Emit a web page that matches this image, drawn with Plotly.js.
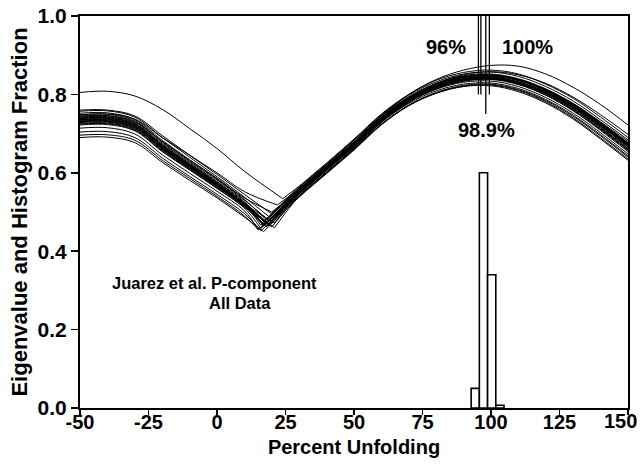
<!DOCTYPE html>
<html>
<head>
<meta charset="utf-8">
<script src="https://cdn.plot.ly/plotly-3.0.1.min.js"></script>
<style>html,body{margin:0;padding:0;background:#fff;}#chart{width:640px;height:464px;}</style>
</head>
<body>
<div id="chart"></div>
<script>
// ---- Data ----
const xLeft = [-50, -40, -30, -20, -10, 0, 10];
const xRight = [30, 40, 50, 60, 70, 80, 90, 100, 110, 120, 130, 140, 150];

const curveLeft = [
  [0.805,0.808,0.796,0.762,0.713,0.662,0.604],
  [0.760,0.760,0.745,0.695,0.645,0.596,0.545],
  [0.757,0.758,0.742,0.690,0.640,0.590,0.538],
  [0.752,0.753,0.736,0.683,0.633,0.584,0.532],
  [0.748,0.749,0.733,0.679,0.630,0.582,0.530],
  [0.745,0.746,0.730,0.676,0.627,0.578,0.526],
  [0.742,0.743,0.727,0.673,0.624,0.576,0.524],
  [0.740,0.741,0.725,0.671,0.622,0.574,0.522],
  [0.738,0.739,0.723,0.669,0.620,0.572,0.520],
  [0.736,0.737,0.721,0.667,0.619,0.571,0.521],
  [0.734,0.735,0.719,0.665,0.617,0.569,0.518],
  [0.732,0.733,0.717,0.663,0.615,0.568,0.518],
  [0.730,0.731,0.715,0.662,0.614,0.567,0.517],
  [0.728,0.729,0.713,0.660,0.612,0.565,0.515],
  [0.726,0.727,0.711,0.658,0.611,0.564,0.514],
  [0.724,0.725,0.709,0.656,0.609,0.562,0.512],
  [0.722,0.723,0.707,0.654,0.607,0.560,0.510],
  [0.714,0.715,0.699,0.646,0.599,0.553,0.503],
  [0.704,0.705,0.690,0.638,0.591,0.545,0.496],
  [0.696,0.697,0.683,0.632,0.586,0.540,0.490],
  [0.690,0.691,0.677,0.627,0.581,0.536,0.487],
  [0.748,0.750,0.737,0.690,0.645,0.600,0.552],
  [0.744,0.745,0.730,0.680,0.633,0.586,0.536],
  [0.739,0.740,0.724,0.670,0.621,0.573,0.521],
  [0.735,0.736,0.720,0.666,0.618,0.570,0.519],
  [0.731,0.732,0.716,0.662,0.614,0.567,0.516]
];
const cuspX = [24,20,19,18,19,17,18,19,17,18,16,19,20,17,18,21,16,15,16,15,17,22,20,21,19,18];
const cuspY = [0.534,0.495,0.488,0.480,0.478,0.476,0.472,0.470,0.468,0.469,0.466,0.464,0.462,0.465,0.462,0.460,0.458,0.455,0.452,0.455,0.450,0.518,0.500,0.472,0.467,0.463];
const curveRight = [
  [0.566,0.622,0.684,0.746,0.800,0.838,0.862,0.874,0.872,0.852,0.818,0.774,0.722],
  [0.565,0.625,0.686,0.750,0.800,0.836,0.856,0.862,0.852,0.826,0.790,0.742,0.690],
  [0.562,0.622,0.683,0.748,0.798,0.832,0.852,0.857,0.846,0.820,0.783,0.735,0.684],
  [0.558,0.618,0.678,0.744,0.794,0.828,0.848,0.852,0.840,0.814,0.776,0.728,0.676],
  [0.553,0.613,0.674,0.740,0.790,0.825,0.845,0.850,0.838,0.812,0.774,0.725,0.673],
  [0.560,0.620,0.680,0.745,0.794,0.827,0.846,0.850,0.837,0.810,0.771,0.722,0.669],
  [0.556,0.616,0.676,0.741,0.791,0.824,0.844,0.848,0.836,0.810,0.772,0.724,0.672],
  [0.550,0.610,0.670,0.736,0.787,0.821,0.841,0.846,0.835,0.810,0.773,0.726,0.675],
  [0.553,0.613,0.673,0.738,0.788,0.821,0.840,0.844,0.832,0.806,0.768,0.720,0.668],
  [0.551,0.611,0.671,0.737,0.787,0.820,0.840,0.844,0.831,0.804,0.765,0.716,0.663],
  [0.556,0.616,0.676,0.740,0.789,0.821,0.839,0.842,0.829,0.802,0.763,0.714,0.661],
  [0.546,0.606,0.667,0.733,0.784,0.818,0.838,0.843,0.832,0.807,0.770,0.723,0.672],
  [0.542,0.602,0.663,0.730,0.781,0.816,0.836,0.841,0.830,0.805,0.768,0.721,0.670],
  [0.549,0.609,0.669,0.734,0.784,0.817,0.836,0.840,0.827,0.800,0.761,0.712,0.659],
  [0.547,0.607,0.667,0.732,0.782,0.815,0.834,0.838,0.825,0.798,0.759,0.710,0.657],
  [0.540,0.600,0.661,0.728,0.779,0.814,0.834,0.839,0.828,0.803,0.766,0.719,0.668],
  [0.548,0.608,0.668,0.732,0.781,0.813,0.831,0.834,0.820,0.792,0.752,0.702,0.648],
  [0.546,0.606,0.665,0.729,0.777,0.809,0.826,0.829,0.815,0.787,0.747,0.697,0.643],
  [0.540,0.600,0.660,0.724,0.773,0.805,0.823,0.826,0.812,0.784,0.744,0.694,0.640],
  [0.542,0.602,0.661,0.724,0.772,0.803,0.820,0.822,0.807,0.778,0.737,0.686,0.632],
  [0.538,0.598,0.658,0.722,0.771,0.803,0.821,0.824,0.810,0.781,0.740,0.689,0.635],
  [0.560,0.618,0.678,0.742,0.792,0.828,0.850,0.858,0.850,0.828,0.793,0.748,0.698],
  [0.556,0.615,0.675,0.740,0.790,0.824,0.844,0.849,0.838,0.812,0.775,0.727,0.676],
  [0.548,0.608,0.669,0.736,0.787,0.822,0.843,0.848,0.838,0.813,0.777,0.730,0.680],
  [0.550,0.610,0.670,0.735,0.785,0.819,0.838,0.842,0.830,0.804,0.766,0.718,0.666],
  [0.552,0.612,0.672,0.737,0.786,0.819,0.837,0.840,0.826,0.798,0.758,0.708,0.654]
];

// Histogram of unfolding percentages
const binCenters = [94.25, 97.25, 100.25, 103.25];
const binFraction = [0.05, 0.60, 0.34, 0.007];

// Marker lines (percent unfolding) and their lower ends
const markerX = [95.4, 96.3, 98.1, 99.4];
const markerLow = [0.80, 0.80, 0.75, 0.80];
const markerHigh = [1.0, 1.0, 1.0, 1.0];

const markerLabels = ['96%', '100%', '98.9%'];
const markerLabelX = [83.5, 113.4, 98.4];
const markerLabelY = [0.922, 0.922, 0.708];

const xTicks = [-50, -25, 0, 25, 50, 75, 100, 125, 150];
const yTicks = [0.0, 0.2, 0.4, 0.6, 0.8, 1.0];

// ---- Build traces ----
const FONT = 'Liberation Sans, Arial, Helvetica, sans-serif';
const traces = [];
for (let i = 0; i < curveLeft.length; i++) {
  traces.push({
    type: 'scatter', mode: 'lines',
    x: xLeft.concat([cuspX[i]]),
    y: curveLeft[i].concat([cuspY[i]]),
    line: {color: '#000', width: 1, shape: 'spline', smoothing: 1},
    hoverinfo: 'skip', showlegend: false
  });
  traces.push({
    type: 'scatter', mode: 'lines',
    x: [cuspX[i]].concat(xRight),
    y: [cuspY[i]].concat(curveRight[i]),
    line: {color: '#000', width: 1, shape: 'spline', smoothing: 1},
    hoverinfo: 'skip', showlegend: false
  });
}
traces.push({
  type: 'bar', x: binCenters, y: binFraction, width: 3,
  marker: {color: '#fff', line: {color: '#000', width: 1.6}},
  showlegend: false, hoverinfo: 'skip'
});
for (let i = 0; i < markerX.length; i++) {
  traces.push({
    type: 'scatter', mode: 'lines',
    x: [markerX[i], markerX[i]], y: [markerLow[i], markerHigh[i]],
    line: {color: '#000', width: 1.3}, showlegend: false, hoverinfo: 'skip'
  });
}

const annotations = markerLabels.map((t, i) => ({
  x: markerLabelX[i], y: markerLabelY[i], xref: 'x', yref: 'y',
  text: t, showarrow: false,
  font: {family: FONT, size: 20, color: '#000', weight: 'bold'}
}));
annotations.push({
  x: -0.8, y: 0.318, xref: 'x', yref: 'y', text: 'Juarez et al. P-component',
  showarrow: false, font: {family: FONT, size: 16.5, color: '#000', weight: 'bold'}
});
annotations.push({
  x: 8.5, y: 0.267, xref: 'x', yref: 'y', text: 'All Data',
  showarrow: false, font: {family: FONT, size: 16.5, color: '#000', weight: 'bold'}
});

const TICKFONT = {family: FONT, size: 20, color: '#000', weight: 'bold'};
// last x tick label sits flush against the right edge of the figure
const xTickText = xTicks.map(v => (v === xTicks[xTicks.length - 1] ? '' : String(v)));
annotations.push({
  x: xTicks[xTicks.length - 1], y: 0, xref: 'x', yref: 'y',
  text: String(xTicks[xTicks.length - 1]), showarrow: false,
  xanchor: 'right', yanchor: 'top', xshift: 11, yshift: 0,
  font: TICKFONT
});

const layout = {
  width: 640, height: 464,
  margin: {l: 80, r: 12, t: 16, b: 56},
  paper_bgcolor: '#fff', plot_bgcolor: '#fff',
  bargap: 0,
  font: {family: FONT, color: '#000'},
  xaxis: {
    range: [-50, 150], tickvals: xTicks, ticktext: xTickText,
    showgrid: false, zeroline: false,
    showline: true, linecolor: '#000', linewidth: 2, mirror: true,
    ticks: 'outside', ticklen: 5, tickwidth: 1.5, tickcolor: '#000',
    ticklabelstandoff: -10,
    tickfont: TICKFONT,
    title: {text: 'Percent Unfolding', standoff: 8,
      font: {family: FONT, size: 20, color: '#000', weight: 'bold'}}
  },
  yaxis: {
    range: [0, 1], tickvals: yTicks, ticktext: yTicks.map(v => v.toFixed(1)),
    showgrid: false, zeroline: false,
    showline: true, linecolor: '#000', linewidth: 2, mirror: true,
    ticks: 'outside', ticklen: 7, tickwidth: 1.5, tickcolor: '#000',
    ticklabeloverflow: 'allow',
    tickfont: {family: FONT, size: 21, color: '#000', weight: 'bold'},
    title: {text: 'Eigenvalue and Histogram Fraction', standoff: 4,
      font: {family: FONT, size: 22, color: '#000', weight: 'bold'}}
  },
  annotations: annotations
};

Plotly.newPlot('chart', traces, layout, {displayModeBar: false, staticPlot: true});
</script>
</body>
</html>
